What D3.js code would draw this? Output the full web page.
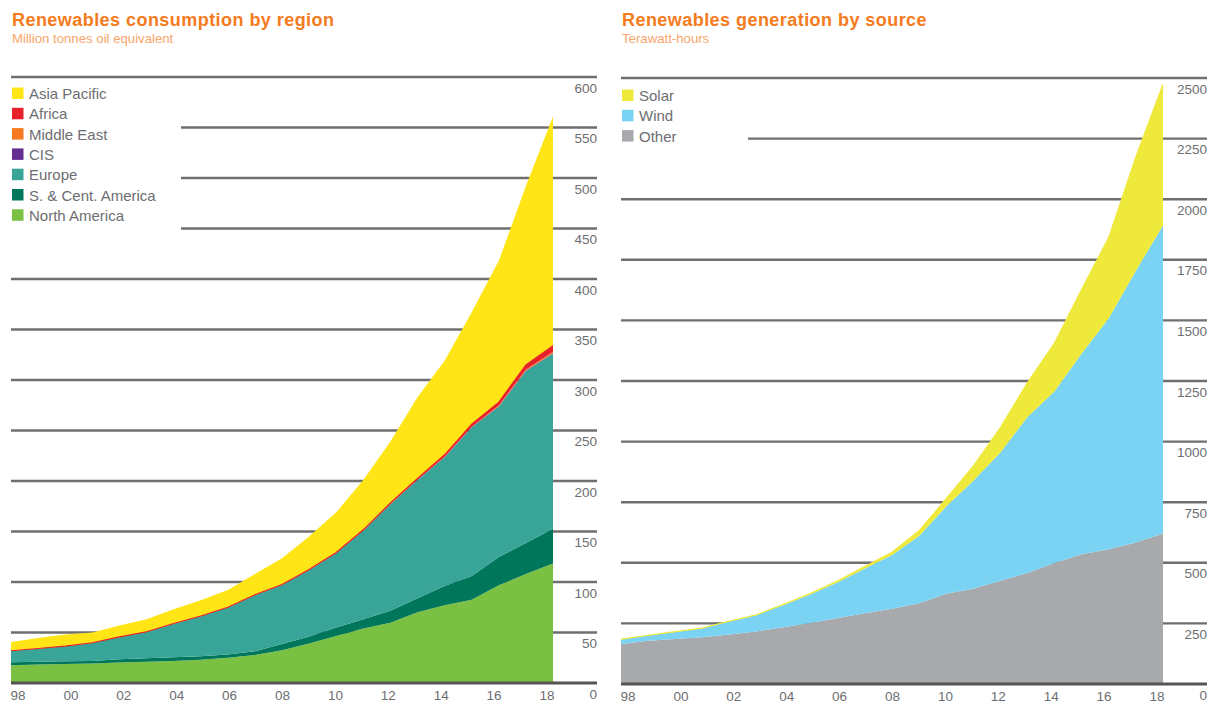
<!DOCTYPE html>
<html>
<head>
<meta charset="utf-8">
<script src="https://cdn.jsdelivr.net/npm/d3@7"></script>
<style>
  html, body { margin: 0; padding: 0; background: #fff; }
  svg { display: block; }
  text { font-family: "Liberation Sans", Arial, sans-serif; }
</style>
</head>
<body>
<svg id="chart" width="1219" height="704"></svg>
<script>
// ---------- DATA ----------
const years = [1998,1999,2000,2001,2002,2003,2004,2005,2006,2007,2008,2009,2010,2011,2012,2013,2014,2015,2016,2017,2018];
const yearTickValues = [1998,2000,2002,2004,2006,2008,2010,2012,2014,2016,2018];
const yearTickLabels = ["98","00","02","04","06","08","10","12","14","16","18"];

// Left: Renewables consumption by region (Mtoe)
const regionKeys = ["North America","S. & Cent. America","Europe","CIS","Middle East","Africa","Asia Pacific"];
const northAmerica = [17.5,18.2,18.8,19.2,20.2,21.1,21.8,23.1,25.1,27.6,32.5,39.0,46.5,54.0,59.6,70.0,77.0,82.5,96.8,108.0,118.4];
const southCentAmerica = [3.0,2.8,2.7,2.6,3.3,3.4,3.7,3.4,3.1,3.9,6.0,7.0,8.5,9.0,11.9,13.8,19.0,23.5,28.0,30.5,34.3];
const europe = [11.2,13.0,14.8,17.8,22.0,26.0,33.2,39.5,46.4,55.3,58.5,65.7,73.5,87.8,105.4,117.2,127.5,147.0,148.9,170.5,173.3];
const cis = [0.0,0.0,0.0,0.0,0.0,0.0,0.0,0.0,0.1,0.1,0.1,0.1,0.1,0.1,0.2,0.2,0.3,0.4,0.4,0.5,0.6];
const middleEast = [0.0,0.0,0.0,0.0,0.0,0.0,0.0,0.0,0.0,0.0,0.0,0.0,0.0,0.0,0.1,0.1,0.2,0.4,0.6,0.9,1.4];
const africa = [0.2,0.2,0.2,0.2,0.2,0.3,0.3,0.3,0.4,0.4,0.5,0.5,0.6,0.8,1.0,1.3,2.0,2.6,3.4,4.5,6.0];
const asiaPacific = [8.7,10.3,11.5,10.2,11.3,12.2,14.0,15.7,16.9,20.7,25.9,32.7,39.8,49.3,60.8,80.4,93.0,110.6,139.9,177.1,227.0];
const regionTicks = [0,50,100,150,200,250,300,350,400,450,500,550,600];

// Right: Renewables generation by source (TWh)
const sourceKeys = ["Other","Wind","Solar"];
const other = [165,178,186,193,204,217,234,252,272,292,310,333,372,393,426,458,499,535,556,584,621];
const wind = [19,22,29,36,54,67,92,118,148,185,222,278,360,446,529,644,709,828,953,1121,1271];
const solar = [1,1,1,2,2,2,3,4,6,8,12,21,33,60,103,142,200,265,334,470,582];
const sourceTicks = [0,250,500,750,1000,1250,1500,1750,2000,2250,2500];

// ---------- STYLE ----------
const regionColors = {
  "Asia Pacific": "#FFE516",
  "Africa": "#E8202A",
  "Middle East": "#F47920",
  "CIS": "#662D91",
  "Europe": "#38A598",
  "S. & Cent. America": "#00765A",
  "North America": "#7AC143"
};
const sourceColors = { "Solar": "#EEE93A", "Wind": "#7AD3F3", "Other": "#A7A9AC" };
const titleColor = "#F47B20";
const subColor = "#F9A56B";
const textColor = "#6D6E71";
const gridColor = "#6F6F6F";

const svg = d3.select("#chart");

function buildRows(keys, arrays) {
  return years.map((yr, i) => {
    const row = { year: yr };
    keys.forEach((k, j) => row[k] = arrays[j][i]);
    return row;
  });
}

function drawPanel(opt) {
  const g = svg.append("g");
  const x = d3.scaleLinear().domain([1998, 2018]).range([opt.x0, opt.x1]);
  const xl = d3.scaleLinear().domain([1998, 2018]).range([opt.x0 + 7, opt.x1 - 6]);
  const y = d3.scaleLinear().domain([0, opt.ymax]).range([opt.yb, opt.yt]);

  // titles
  g.append("text").attr("x", opt.x0 + 1).attr("y", 26)
    .attr("font-size", 18).attr("font-weight", "bold").attr("letter-spacing", 0.45)
    .attr("fill", titleColor).text(opt.title);
  g.append("text").attr("x", opt.x0 + 1).attr("y", 42.5)
    .attr("font-size", 13.2).attr("fill", subColor).text(opt.subtitle);

  // gridlines
  opt.ticks.forEach(t => {
    if (t === 0) return;
    const start = opt.shortLines.includes(t) ? opt.shortStart : opt.x0;
    g.append("line").attr("x1", start).attr("x2", opt.gridEnd)
      .attr("y1", y(t)).attr("y2", y(t))
      .attr("stroke", gridColor).attr("stroke-width", 2.4);
  });

  // stacked areas
  const rows = buildRows(opt.keys, opt.arrays);
  const series = d3.stack().keys(opt.keys)(rows);
  const area = d3.area().x(d => x(d.data.year)).y0(d => y(d[0])).y1(d => y(d[1]));
  g.selectAll("path.layer").data(series).enter().append("path")
    .attr("class", "layer")
    .attr("d", area).attr("fill", d => opt.colors[d.key]);

  // thin edge lines for very thin layers
  const topLine = d3.line().x(d => x(d.data.year)).y(d => y(d[1]));
  series.filter(s => opt.edgeKeys.includes(s.key)).forEach(s => {
    g.append("path").attr("d", topLine(s)).attr("fill", "none")
      .attr("stroke", opt.colors[s.key]).attr("stroke-width", 1.1);
  });

  // bottom axis line
  g.append("line").attr("x1", opt.x0).attr("x2", opt.gridEnd)
    .attr("y1", y(0)).attr("y2", y(0))
    .attr("stroke", "#555").attr("stroke-width", 3);

  // y tick labels
  opt.ticks.forEach(t => {
    g.append("text").attr("x", opt.gridEnd).attr("y", y(t) + 15.5)
      .attr("text-anchor", "end").attr("font-size", 13.5)
      .attr("fill", textColor).text(t);
  });

  // x tick labels
  yearTickValues.forEach((yr, i) => {
    g.append("text").attr("x", xl(yr)).attr("y", y(0) + 16.5)
      .attr("text-anchor", "middle").attr("font-size", 13.5)
      .attr("fill", textColor).text(yearTickLabels[i]);
  });

  // legend
  opt.legend.forEach((k, i) => {
    const by = opt.legendY + i * 20.3;
    g.append("rect").attr("x", opt.x0 + 1).attr("y", by - 11.5)
      .attr("width", 11.5).attr("height", 11.5).attr("fill", opt.colors[k]);
    g.append("text").attr("x", opt.x0 + 18).attr("y", by)
      .attr("font-size", 15).attr("fill", textColor).text(k);
  });
}

drawPanel({
  title: "Renewables consumption by region",
  subtitle: "Million tonnes oil equivalent",
  x0: 11, x1: 553, gridEnd: 597, shortStart: 181, shortLines: [450, 500, 550],
  yb: 683, yt: 77, ymax: 600, ticks: regionTicks,
  keys: regionKeys,
  arrays: [northAmerica, southCentAmerica, europe, cis, middleEast, africa, asiaPacific],
  colors: regionColors, edgeKeys: ["Africa"],
  legend: ["Asia Pacific","Africa","Middle East","CIS","Europe","S. & Cent. America","North America"],
  legendY: 99
});

drawPanel({
  title: "Renewables generation by source",
  subtitle: "Terawatt-hours",
  x0: 621, x1: 1163, gridEnd: 1207, shortStart: 748, shortLines: [2250],
  yb: 684, yt: 78, ymax: 2500, ticks: sourceTicks,
  keys: sourceKeys,
  arrays: [other, wind, solar],
  colors: sourceColors, edgeKeys: ["Solar"],
  legend: ["Solar","Wind","Other"],
  legendY: 101
});
</script>
</body>
</html>
